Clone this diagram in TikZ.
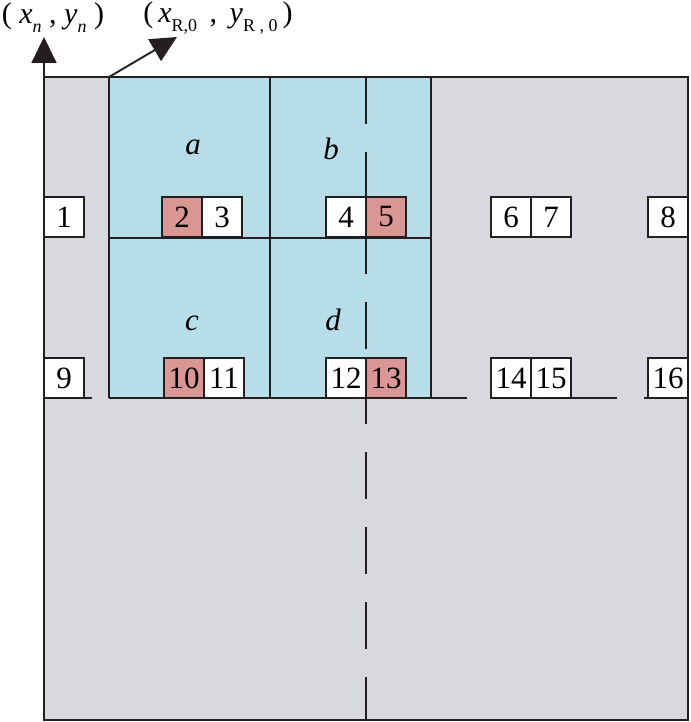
\documentclass[tikz,border=0pt]{standalone}
\usepackage{fontspec}
\setmainfont{Liberation Serif}
\usetikzlibrary{arrows.meta, positioning}

\definecolor{floorgrey}{RGB}{216,217,222}
\definecolor{roomblue}{RGB}{183,222,232}
\definecolor{slotpink}{RGB}{217,150,148}
\definecolor{inkline}{RGB}{35,31,32}

\newcommand{\lowsub}[1]{\raisebox{-0.3em}{\fontsize{18}{18}\selectfont #1}}

\begin{document}
\begin{tikzpicture}[
  x=1pt, y=-1pt,
  wall/.style={draw=inkline, line width=1.9pt},
  cell/.style={rectangle, draw=inkline, line width=1.9pt, fill=white,
    minimum width=40pt, minimum height=40pt, inner sep=0pt, outer sep=0pt,
    font=\fontsize{31}{32}\selectfont},
  hot/.style={cell, fill=slotpink},
  room/.style={font=\fontsize{31}{32}\selectfont\itshape},
  coord/.style={font=\fontsize{30}{32}\selectfont, inner sep=0pt},
  arrow/.style={-{Triangle[length=26pt, width=25pt]}, draw=inkline, line width=1.9pt}
]
  \useasboundingbox (0,0) rectangle (690,722);

  % floor and rooms
  \fill[floorgrey] (44,77) rectangle (688,720);
  \fill[roomblue] (109,77) rectangle (431,398);
  \draw[wall] (44,77) rectangle (688,720);
  \draw[wall] (109,77) -- (109,398) (270,77) -- (270,398) (431,77) -- (431,398)
    (109,238) -- (431,238);
  \draw[wall, dash pattern=on 47pt off 28pt] (366,77) -- (366,720);
  \draw[wall] (44,398) -- (92,398) (109,398) -- (467,398)
    (492,398) -- (617,398) (644,398) -- (688,398);

  \node[room] (ra) at (193,147) {a};
  \node[room] (rb) at (331,149) {b};
  \node[room] (rc) at (192,323) {c};
  \node[room] (rd) at (333,320) {d};

  % first row of slots
  \node[cell] (s1) at (64,217) {1};
  \node[hot] (s2) at (182,217) {2};
  \node[cell, right=0pt of s2] (s3) {3};
  \node[cell] (s4) at (346,217) {4};
  \node[hot, right=0pt of s4] (s5) {5};
  \node[cell] (s6) at (511,217) {6};
  \node[cell, right=0pt of s6] (s7) {7};
  \node[cell] (s8) at (668,217) {8};

  % second row of slots
  \node[cell] (s9) at (64,378) {9};
  \node[hot] (s10) at (184,378) {10};
  \node[cell, right=0pt of s10] (s11) {11};
  \node[cell] (s12) at (346,378) {12};
  \node[hot, right=0pt of s12] (s13) {13};
  \node[cell] (s14) at (511,378) {14};
  \node[cell, right=0pt of s14] (s15) {15};
  \node[cell] (s16) at (668,378) {16};

  % origins
  \node[coord] (pn) at (53,18)
    {( \textit{x}\lowsub{\textit{n}} , \textit{y}\lowsub{\textit{n}} )};
  \node[coord] (pr) at (218,18)
    {(\,\textit{x}\lowsub{R,0}\, , \,\textit{y}\lowsub{R , 0}\,)};
  \coordinate (corner) at (44,77);
  \coordinate (rcorner) at (109,77);
  \coordinate (ntip) at (44,37);
  \coordinate (rtip) at (177,37);
  \draw[arrow] (corner) -- (ntip);
  \draw[arrow] (rcorner) -- (rtip);
\end{tikzpicture}
\end{document}
